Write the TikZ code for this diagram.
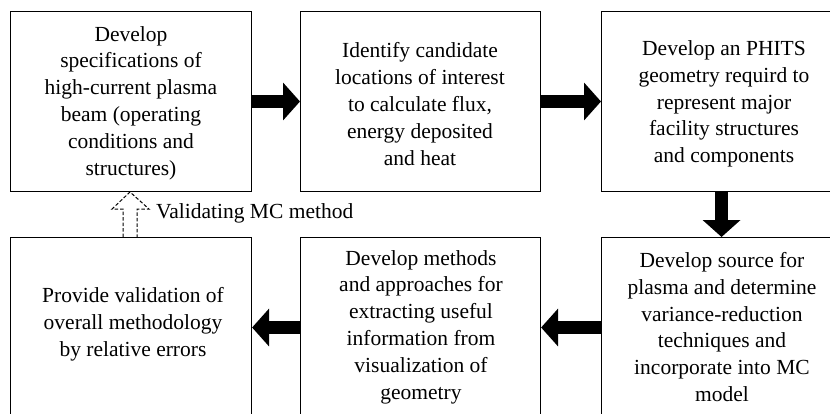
\documentclass[tikz,border=0pt]{standalone}
\usepackage{fontspec}
\setmainfont{Liberation Serif}
\usetikzlibrary{arrows.meta,calc}
\begin{document}
\begin{tikzpicture}[x=1pt,y=-1pt,
  box/.style={draw=black,line width=1.1pt,minimum width=#1,minimum height=180pt,inner sep=0pt,anchor=north west},
  txt/.style={align=center,font=\fontsize{21.5}{26.8}\selectfont,inner sep=0pt},
  bigarrow/.style={line width=13pt,-{Triangle[width=37pt,length=17pt]}}]
\useasboundingbox (0,0) rectangle (830,413);
\begin{scope}
\clip (0,0) rectangle (830,413);
\node[box=241pt] (b1) at (10,11) {};
\node[box=240pt] (b2) at (300,11) {};
\node[box=240pt] (b3) at (601,11) {};
\node[box=241pt] (b4) at (10,237) {};
\node[box=240pt] (b5) at (300,237) {};
\node[box=240pt] (b6) at (601,237) {};
\end{scope}
\node[txt] (t1) at (131,103) {Develop\\specifications of\\high-current plasma\\beam (operating\\conditions and\\structures)};
\node[txt] (t2) at (420,104) {Identify candidate\\locations of interest\\to calculate flux,\\energy deposited\\and heat};
\node[txt] (t3) at (724,104) {Develop an PHITS\\geometry requird to\\represent major\\facility structures\\and components};
\node[txt] (t4) at (133,324) {Provide validation of\\overall methodology\\by relative errors};
\node[txt] (t5) at (421,327) {Develop methods\\and approaches for\\extracting useful\\information from\\visualization of\\geometry};
\node[txt] (t6) at (722,327) {Develop source for\\plasma and determine\\variance-reduction\\techniques and\\incorporate into MC\\model};
% thick arrows
\draw[bigarrow] (b1.east |- 0,101.5) -- (b2.west |- 0,101.5);
\draw[bigarrow] (b2.east |- 0,101.5) -- (b3.west |- 0,101.5);
\draw[bigarrow] (b3.south) -- (b6.north);
\draw[bigarrow] (b6.west |- 0,327.5) -- (b5.east |- 0,327.5);
\draw[bigarrow] (b5.west |- 0,327.5) -- (b4.east |- 0,327.5);
% dashed hollow arrow
\coordinate (tip) at (130,192);
\draw[line width=1pt,dash pattern=on 3.5pt off 2pt] (123,237) -- (123,209) -- (112,209) -- (tip) -- (149,209) -- (137,209) -- (137,237);
\node[txt,anchor=west] (lab) at (156,213) {Validating MC method};
\end{tikzpicture}
\end{document}
